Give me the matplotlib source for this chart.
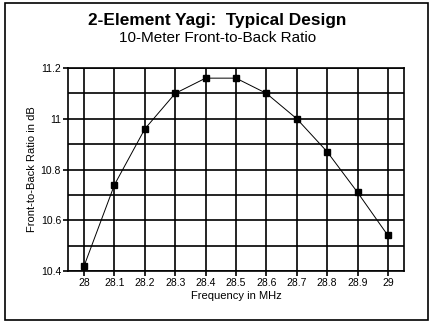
import matplotlib
matplotlib.use("Agg")
import matplotlib.pyplot as plt
from matplotlib.patches import Rectangle
from matplotlib.ticker import MultipleLocator, FixedLocator, FuncFormatter

# front-to-back ratio across the 10 m band
freq_mhz = [28.0, 28.1, 28.2, 28.3, 28.4, 28.5, 28.6, 28.7, 28.8, 28.9, 29.0]
ftb_db = [10.42, 10.74, 10.96, 11.10, 11.16, 11.16, 11.10, 11.00, 10.87, 10.71, 10.54]
freq_ticks = [28.0, 28.1, 28.2, 28.3, 28.4, 28.5, 28.6, 28.7, 28.8, 28.9, 29.0]

plt.rcParams['font.family'] = ['Liberation Sans', 'DejaVu Sans']


def short_num(v, pos):
    return ('%.1f' % v).rstrip('0').rstrip('.')


fig = plt.figure(figsize=(4.35, 3.3), dpi=100)
fig.patch.set_facecolor('white')

# outer border around the whole chart
fig.add_artist(Rectangle((5 / 435, 10 / 330), 423 / 435, 317 / 330,
                         transform=fig.transFigure, fill=False,
                         edgecolor='black', lw=1.2))

ax = fig.add_axes([68 / 435, 1 - 271 / 330, 336 / 435, 203 / 330])

ax.plot(freq_mhz, ftb_db, color='black', lw=0.7, marker='s', ms=4.5,
        markerfacecolor='black', markeredgecolor='black', zorder=3)

ax.set_xlim(28 - 0.053, 29 + 0.053)
ax.set_ylim(10.4, 11.2)

ax.xaxis.set_major_locator(FixedLocator(freq_ticks))
ax.xaxis.set_major_formatter(FuncFormatter(short_num))
ax.yaxis.set_major_locator(MultipleLocator(0.2))
ax.yaxis.set_minor_locator(MultipleLocator(0.1))
ax.yaxis.set_major_formatter(FuncFormatter(short_num))

ax.grid(True, which='both', color='black', lw=1.2)
ax.set_axisbelow(True)
for s in ax.spines.values():
    s.set_linewidth(1.2)

ax.tick_params(axis='both', which='major', direction='out', length=3.5, width=1.2,
               labelsize=7.5, pad=1.5)
ax.tick_params(axis='y', which='minor', length=0)

ax.set_xlabel('Frequency in MHz', fontsize=8, labelpad=2)
ax.set_ylabel('Front-to-Back Ratio in dB', fontsize=8, labelpad=3)

fig.text(0.5, 1 - 20 / 330, '2-Element Yagi:  Typical Design', ha='center', va='center',
         fontsize=12.4, fontweight='bold')
fig.text(0.5, 1 - 38 / 330, '10-Meter Front-to-Back Ratio', ha='center', va='center',
         fontsize=11)

fig.savefig('out.png', dpi=100)
